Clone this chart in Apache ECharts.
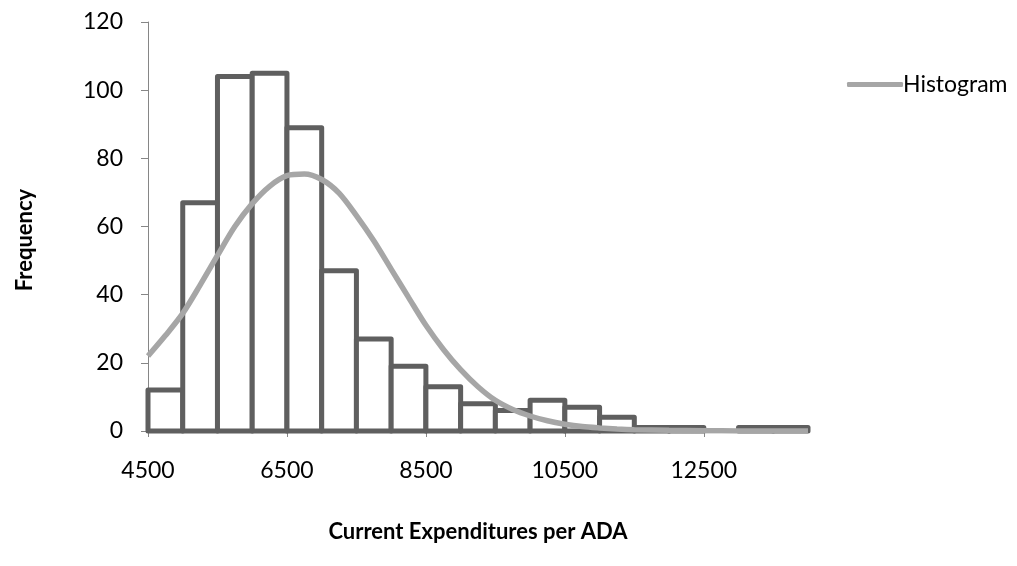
<!DOCTYPE html>
<html>
<head>
<meta charset="utf-8">
<script src="https://cdn.jsdelivr.net/npm/echarts@6/dist/echarts.min.js"></script>
<style>
  html, body { margin: 0; padding: 0; background: #fff; }
  #chart { width: 1017px; height: 566px; }
</style>
</head>
<body>
<div id="chart"></div>
<script>
// Histogram bins (lower edge) and counts, bin width 500
const binStarts = [4500, 5000, 5500, 6000, 6500, 7000, 7500, 8000, 8500, 9000,
                   9500, 10000, 10500, 11000, 11500, 12000, 12500, 13000, 13500];
const binCounts = [12, 67, 104, 105, 89, 47, 27, 19, 13, 8,
                   6, 9, 7, 4, 1, 1, 0, 1, 1];
const binWidth = 500;

// Fitted normal curve, sampled along the x axis
const curveX = [4500, 4750, 5000, 5250, 5500, 5750, 6000, 6250, 6500, 6750,
                7000, 7250, 7500, 7750, 8000, 8250, 8500, 8750, 9000, 9250,
                9500, 9750, 10000, 10250, 10500, 10750, 11000, 11250, 11500,
                12000, 12500, 13000, 13500, 14000];
const curveY = [22, 28, 34.5, 42.8, 51.5, 60, 66.7, 71.8, 74.9, 75.4,
                73.8, 69.8, 63.2, 55.8, 47.5, 39.2, 31, 24, 18, 13,
                9, 6.3, 4.4, 3, 2, 1.3, 0.9, 0.6, 0.4,
                0.2, 0.1, 0, 0, 0];

// Axis tick labels and titles
const xTickValues = [4500, 6500, 8500, 10500, 12500];
const yTickValues = [0, 20, 40, 60, 80, 100, 120];
const xTitle = 'Current Expenditures per ADA';
const yTitle = 'Frequency';

const FONT = 'Lato, "Open Sans", sans-serif';

const barData = binStarts.map((s, i) => [s, s + binWidth, binCounts[i]]);
const lineData = curveX.map((x, i) => [x, curveY[i]]);

const chart = echarts.init(document.getElementById('chart'), null, { renderer: 'canvas' });

chart.setOption({
  animation: false,
  backgroundColor: '#ffffff',
  grid: { left: 148, right: 209, top: 22, bottom: 135 },
  legend: {
    data: ['Histogram'],
    left: 842,
    top: 68,
    itemWidth: 56,
    itemHeight: 5,
    itemGap: 4,
    icon: 'roundRect',
    textStyle: { fontFamily: FONT, fontSize: 23, color: '#000', padding: [0, 0, 0, -5] }
  },
  // vertical axis title, set a little below the plot's middle
  graphic: [{
    type: 'text',
    x: 25,
    y: 240,
    rotation: Math.PI / 2,
    style: {
      text: yTitle,
      fontFamily: FONT, fontSize: 22, fontWeight: 'bold', fill: '#000',
      align: 'center', verticalAlign: 'middle'
    }
  }],
  xAxis: {
    type: 'value',
    min: 4500,
    max: 14000,
    interval: 500,
    name: xTitle,
    nameLocation: 'middle',
    nameGap: 90,
    nameTextStyle: { fontFamily: FONT, fontSize: 22, fontWeight: 'bold', color: '#000' },
    splitLine: { show: false },
    axisLine: { lineStyle: { color: '#868686', width: 1 } },
    axisTick: { show: true, length: 6, lineStyle: { color: '#868686' }, customValues: xTickValues },
    axisLabel: {
      customValues: xTickValues,
      formatter: v => String(v),
      margin: 28,
      fontFamily: FONT, fontSize: 23, color: '#000'
    }
  },
  yAxis: {
    type: 'value',
    min: 0,
    max: 120,
    interval: 20,
    splitLine: { show: false },
    axisLine: { show: true, lineStyle: { color: '#868686', width: 1 } },
    axisTick: { show: true, length: 7, lineStyle: { color: '#868686' } },
    axisLabel: { margin: 25, fontFamily: FONT, fontSize: 23, color: '#000',
                 formatter: v => String(v), customValues: yTickValues }
  },
  series: [
    {
      name: 'Bins',
      type: 'custom',
      z: 2,
      data: barData,
      encode: { x: [0, 1], y: 2 },
      renderItem: function (params, api) {
        const v = api.value(2);
        if (!v) return null;
        const p0 = api.coord([api.value(0), 0]);
        const p1 = api.coord([api.value(1), v]);
        return {
          type: 'rect',
          shape: { x: p0[0], y: p1[1], width: p1[0] - p0[0], height: p0[1] - p1[1] },
          style: { fill: '#ffffff', stroke: '#5f5f5f', lineWidth: 5, lineJoin: 'round', lineCap: 'round' }
        };
      }
    },
    {
      name: 'Histogram',
      type: 'line',
      z: 3,
      data: lineData,
      smooth: 0.3,
      showSymbol: false,
      symbol: 'none',
      color: '#a6a6a6',
      lineStyle: { color: '#a6a6a6', width: 5.5 }
    }
  ]
});
</script>
</body>
</html>
